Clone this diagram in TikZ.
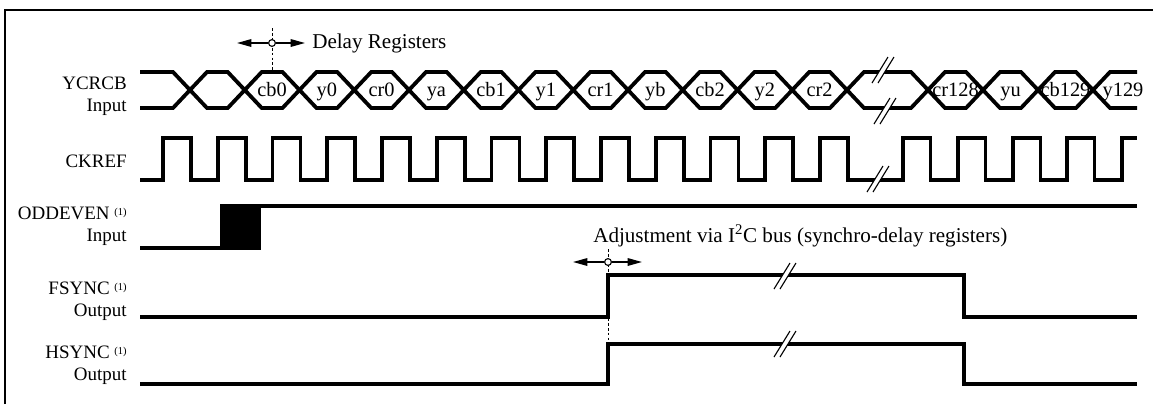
\documentclass[tikz,border=0pt]{standalone}
\usepackage{fontspec}
\setmainfont{Liberation Serif}
\usetikzlibrary{arrows.meta}

\newcommand{\sigbreak}[2]{%
	\fill[white] (#1-11,#2+13) -- (#1+5,#2-13) -- (#1+11,#2-13) -- (#1-5,#2+13) -- cycle;
	\draw[line width=0.8pt] (#1-11,#2+13) -- (#1+5,#2-13) (#1-5,#2+13) -- (#1+11,#2-13);}
\newcommand{\noteone}{\ {\fontsize{7.5}{8}\selectfont\raisebox{0.75ex}{(1)}}}

\begin{document}
\begin{tikzpicture}[x=0.025cm, y=-0.025cm, font=\fontsize{13.5}{15.6}\selectfont,
	sig/.style={line width=2.7pt},
	guide/.style={line width=0.4pt, dash pattern=on 2pt off 1.5pt},
	pointer/.style={line width=1pt, -{Triangle[length=3.6mm, width=1.9mm]}},
	pivot/.style={circle, draw, line width=0.8pt, fill=white, inner sep=0pt, minimum size=1.7mm},
	lbl/.style={anchor=east, align=right, inner sep=0pt},
	note/.style={anchor=west, inner sep=0pt, font=\fontsize{15}{17}\selectfont},
	cell/.style={anchor=base, inner sep=0pt, font=\fontsize{14.5}{16}\selectfont}]
			\useasboundingbox (0,0) rectangle (1153,404);
			% Frame:
			\draw[line width=1.4pt] (5,404) -- (5,10) -- (1153,10);
			% Signal names:
			\node[lbl] (lblYcrcb) at (127,96) {YCRCB\\Input};
			\node[lbl] (lblCkref) at (127,161) {CKREF};
			\node[lbl] (lblOddeven) at (127,226) {ODDEVEN\noteone\\Input};
			\node[lbl] (lblFsync) at (127,301) {FSYNC\noteone\\Output};
			\node[lbl] (lblHsync) at (127,365) {HSYNC\noteone\\Output};
			% YCRCB bus:
			\draw[sig] (140,72) -- (173,72) -- (190,90) -- (173,108) -- (140,108);
			\foreach \k [evaluate=\k as \a using 190+54.75*\k, evaluate=\k as \b using 244.75+54.75*\k] in {0,...,11}
				\draw[sig] (\a,90) -- (\a+17,72) -- (\b-17,72) -- (\b,90) -- (\b-17,108) -- (\a+17,108) -- cycle;
			\foreach \a/\b in {847/928, 928/983, 983/1038, 1038/1093}
				\draw[sig] (\a,90) -- (\a+17,72) -- (\b-17,72) -- (\b,90) -- (\b-17,108) -- (\a+17,108) -- cycle;
			\draw[sig] (1137,72) -- (1110,72) -- (1093,90) -- (1110,108) -- (1137,108);
			\foreach \t [count=\k] in {cb0, y0, cr0, ya, cb1, y1, cr1, yb, cb2, y2, cr2}
				\node[cell] (cell\k) at (217.4+54.75*\k,96) {\t};
			\node[cell] (cellCrA) at (955.5,96) {cr128};
			\node[cell] (cellYu) at (1010.5,96) {yu};
			\node[cell] (cellCbB) at (1065.5,96) {cb129};
			\node[cell] (cellYb) at (1123,96) {y129};
			\sigbreak{883}{70}
			\sigbreak{885}{111}
			% CKREF:
			\draw[sig] (140,180) \foreach \k in {0,...,12}{ -| (163+54.75*\k,138) -| (191+54.75*\k,180) }
				\foreach \x in {903,958,1013,1067}{ -| (\x,138) -| (\x+27.5,180) } -| (1122,138) -- (1137,138);
			\sigbreak{878}{179}
			% ODDEVEN:
			\draw[sig] (140,248) -- (222,248);
			\filldraw[sig] (222,206) rectangle (259,248);
			\draw[sig] (222,206) -- (1137,206);
			% FSYNC and HSYNC:
			\draw[sig] (140,317) -| (608,275) -| (964,317) -- (1137,317);
			\draw[sig] (140,384) -| (608,344) -| (964,384) -- (1137,384);
			\sigbreak{785}{276}
			\sigbreak{785}{344}
			% Delay registers marker:
			\coordinate (dlyL) at (237,43);
			\coordinate (dlyR) at (305,43);
			\draw[guide] (272,28) -- (272,72);
			\node[pivot] (dlyPivot) at (272,43) {};
			\draw[pointer] (dlyPivot) -- (dlyL);
			\draw[pointer] (dlyPivot) -- (dlyR);
			\node[note] (dlyText) at (312,43) {Delay Registers};
			% Adjustment marker:
			\coordinate (adjL) at (573,262);
			\coordinate (adjR) at (642,262);
			\draw[guide] (608,249) -- (608,344);
			\node[pivot] (adjPivot) at (608,262) {};
			\draw[pointer] (adjPivot) -- (adjL);
			\draw[pointer] (adjPivot) -- (adjR);
			\node[note] (adjText) at (593,236) {Adjustment via I\textsuperscript{2}C bus (synchro-delay registers)};
		\end{tikzpicture}
\end{document}
